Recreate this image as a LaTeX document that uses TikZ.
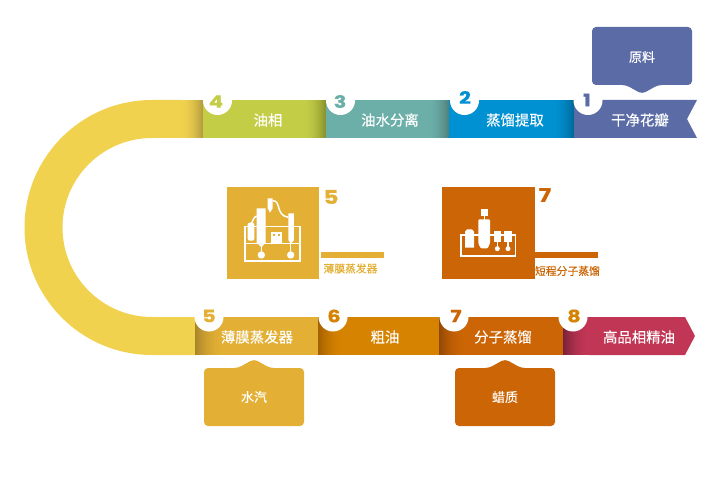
\documentclass[tikz,border=0pt]{standalone}
\usepackage{fontspec}
\setmainfont[FakeBold=0.15]{Noto Sans CJK SC}
\newfontfamily\captionfont[FakeBold=0.3]{Noto Sans CJK SC}
\newfontfamily\digitfont[BoldFeatures={FakeBold=0.6}]{Poppins}
\definecolor{cYellow}{HTML}{F0D24E}
\definecolor{cYellowD}{HTML}{B39A3E}
\definecolor{cOlive}{HTML}{C3CD46}
\definecolor{cOliveD}{HTML}{87902C}
\definecolor{cTeal}{HTML}{6CAFA9}
\definecolor{cTealD}{HTML}{4F7F7B}
\definecolor{cBlue}{HTML}{0091D2}
\definecolor{cBlueD}{HTML}{00689A}
\definecolor{cSlate}{HTML}{5B6BA5}
\definecolor{cGold}{HTML}{E3B035}
\definecolor{cGoldD}{HTML}{A8832A}
\definecolor{cAmber}{HTML}{D58300}
\definecolor{cAmberD}{HTML}{A35E00}
\definecolor{cRust}{HTML}{CC6505}
\definecolor{cRustD}{HTML}{8F4704}
\definecolor{cRose}{HTML}{C13654}
\definecolor{cRoseD}{HTML}{752137}
% #1 x0, #2 pixel count, #3 y0, #4 y1, #5 base colour, #6 dark colour: dark towards the right
\newcommand{\fadeRight}[6]{%
  \foreach \i in {1,...,#2}{%
    \pgfmathsetmacro{\pct}{100*((\i-0.5)/#2)^2}%
    \fill[#6!\pct!#5] ({#1+\i-1},#3) rectangle ({#1+\i+0.3},#4);
  }}
% same, dark towards the left
\newcommand{\fadeLeft}[6]{%
  \foreach \i in {1,...,#2}{%
    \pgfmathsetmacro{\pct}{100*(1-(\i-0.5)/#2)^2}%
    \fill[#6!\pct!#5] ({#1+\i-1},#3) rectangle ({#1+\i+0.3},#4);
  }}
\tikzset{
  bandlabel/.style={text=white,font=\fontsize{14.4}{14}\selectfont,inner sep=0pt},
  calloutlabel/.style={text=white,font=\fontsize{13}{13}\selectfont,inner sep=0pt},
  steplabel/.style={font=\digitfont\bfseries\fontsize{17}{17}\selectfont,inner sep=0pt,xscale=1.22},
  bigdigit/.style={font=\digitfont\bfseries\fontsize{19}{19}\selectfont,inner sep=0pt,xscale=1.22},
  caption/.style={font=\captionfont\fontsize{10.8}{11}\selectfont,inner sep=0pt},
  badge/.style={circle,fill=white,minimum size=29pt,inner sep=0pt},
  iconline/.style={draw=white,line width=1.5pt},
}
\begin{document}
\begin{tikzpicture}[x=1pt,y=-1pt]
\useasboundingbox (0,0) rectangle (720,481);
% curved band
\fill[cYellow] (181,100) -- (152,100) arc[start angle=-90,end angle=-270,radius=127.5]
  -- (196,355) -- (196,317) -- (152,317) arc[start angle=90,end angle=270,radius=89.5]
  -- (181,138) -- cycle;
\fadeRight{180}{23}{100}{138}{cYellow}{cYellowD}
% top band
\fill[cOlive] (203,100) rectangle (304,138);
\fadeRight{303}{23}{100}{138}{cOlive}{cOliveD}
\fill[cTeal] (326,100) rectangle (428,138);
\fadeRight{427}{22}{100}{138}{cTeal}{cTealD}
\fill[cBlue] (449,100) rectangle (552,138);
\fadeRight{551}{23}{100}{138}{cBlue}{cBlueD}
\fill[cSlate] (574,100) -- (697,100) -- (687,119) -- (697,138) -- (574,138) -- cycle;
% bottom band
\fill[cGold] (224,317) rectangle (318,355);
\fadeLeft{195}{30}{317}{355}{cGold}{cGoldD}
\fill[cAmber] (344,317) rectangle (439,355);
\fadeLeft{318}{27}{317}{355}{cAmber}{cAmberD}
\fill[cRust] (465,317) rectangle (563,355);
\fadeLeft{439}{27}{317}{355}{cRust}{cRustD}
\fill[cRose] (589,317) -- (685,317) -- (695,336) -- (685,355) -- (589,355) -- cycle;
\fadeLeft{563}{27}{317}{355}{cRose}{cRoseD}
% badges
\node[badge] (b4) at (217.5,100.5) {};
\node[badge] (b3) at (340.5,100.5) {};
\node[badge] (b2) at (464.5,100.5) {};
\node[badge] (b1) at (588,100.5) {};
\node[badge] (b5) at (209,317) {};
\node[badge] (b6) at (333,317) {};
\node[badge] (b7) at (454,317) {};
\node[badge] (b8) at (573,317) {};
\node[steplabel,text=cOlive] (n4) at (216,101.5) {4};
\node[steplabel,text=cTeal] (n3) at (340,101.5) {3};
\node[steplabel,text=cBlue] (n2) at (465,97.5) {2};
\node[steplabel,text=cSlate] (n1) at (587,100) {1};
\node[steplabel,text=cGold] (n5) at (209,316) {5};
\node[steplabel,text=cAmber] (n6) at (334,316) {6};
\node[steplabel,text=cRust] (n7) at (456,316) {7};
\node[steplabel,text=cAmber] (n8) at (574,316) {8};
% band labels
\node[bandlabel] (t4) at (268,120) {油相};
\node[bandlabel] (t3) at (390,120) {油水分离};
\node[bandlabel] (t2) at (515,120) {蒸馏提取};
\node[bandlabel] (t1) at (640,120) {干净花瓣};
\node[bandlabel] (t5) at (257,337) {薄膜蒸发器};
\node[bandlabel] (t6) at (385,337) {粗油};
\node[bandlabel] (t7) at (503,337) {分子蒸馏};
\node[bandlabel] (t8) at (639,337) {高品相精油};
% callouts
\fill[cSlate,rounded corners=4pt] (592,27) -- (692,27) -- (692,85) -- (658,85) -- (642,94) -- (626,85) -- (592,85) -- cycle;
\node[calloutlabel] (c1) at (642,57) {原料};
\fill[cGold,rounded corners=4pt] (204,368) -- (238,368) -- (254,359) -- (270,368) -- (304,368) -- (304,426) -- (204,426) -- cycle;
\node[calloutlabel] (c2) at (254,397) {水汽};
\fill[cRust,rounded corners=4pt] (455,368) -- (489,368) -- (505,359) -- (521,368) -- (555,368) -- (555,426) -- (455,426) -- cycle;
\node[calloutlabel] (c3) at (505,397) {蜡质};
% panel 5
\fill[cGold] (227,187) rectangle (319,279);
\begin{scope}[shift={(220,180)},x=0.3333pt,y=-0.3333pt]
  \draw[iconline] (75,140) rectangle (240,243);
  \draw[iconline] (75,190) -- (240,190);
  \draw[iconline] (93,128) to[out=-80,in=180] (110,108);
  \draw[iconline] (158,62) .. controls (185,62) and (165,105) .. (205,112);
  \draw[iconline] (124,195) -- (124,225);
  \draw[iconline] (212,185) -- (212,225);
  \fill[white,rounded corners=2pt] (83,128) rectangle (103,182);
  \fill[white] (110,85) -- (137,85) -- (137,188) -- (124,202) -- (110,188) -- cycle;
  \fill[white] (205,100) -- (222,100) -- (222,180) -- (213,192) -- (205,180) -- cycle;
  \fill[white] (143,55) -- (158,55) -- (158,85) -- (150,98) -- (143,85) -- cycle;
  \fill[white] (153,155) rectangle (187,190);
  \fill[cGold] (159,162) rectangle (166,168);
  \fill[cGold] (173,162) rectangle (180,168);
  \fill[white] (124,225) circle[radius=11];
  \fill[white] (212,225) circle[radius=11];
\end{scope}
\node[bigdigit,text=cGold] (d5) at (331,197) {5};
\fill[cGold] (321,252) rectangle (384,258);
\node[caption,text=cGold] (cap5) at (350.5,268.5) {薄膜蒸发器};
% panel 7
\fill[cRust] (442,187) rectangle (535,279);
\begin{scope}[shift={(435,180)},x=0.3333pt,y=-0.3333pt]
  \draw[iconline] (78,165) rectangle (242,228);
  \draw[iconline] (148,105) -- (148,120);
  \draw[iconline] (187,185) -- (187,206);
  \draw[iconline] (219,185) -- (219,206);
  \fill[white] (138,88) rectangle (158,108);
  \fill[white,rounded corners=1pt] (130,118) -- (165,118) -- (165,190) -- (158,205) -- (137,205) -- (130,190) -- cycle;
  \fill[white] (90,155) -- (96,148) -- (111,148) -- (117,155) -- (117,203) -- (90,203) -- cycle;
  \fill[white] (177,152) rectangle (197,187);
  \fill[white] (208,152) rectangle (230,187);
  \fill[white] (187,206) circle[radius=7.5];
  \fill[white] (219,206) circle[radius=7.5];
\end{scope}
\node[bigdigit,text=cRust] (d7) at (545,195) {7};
\fill[cRust] (535,252) rectangle (598,258);
\node[caption,text=cRust] (cap7) at (567.5,271) {短程分子蒸馏};
\end{tikzpicture}
\end{document}
